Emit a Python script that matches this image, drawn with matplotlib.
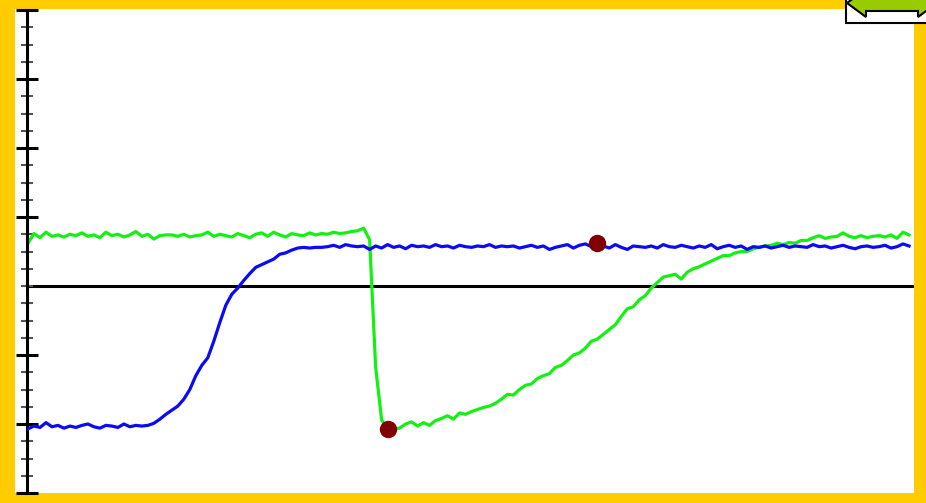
import numpy as np
import matplotlib
matplotlib.use("Agg")
import matplotlib.pyplot as plt
from matplotlib.patches import Rectangle, Polygon
from matplotlib.ticker import FixedLocator, MultipleLocator

# sampled every 0.06 s
dt = 0.06

green = [
    0.62, 0.76, 0.70, 0.78, 0.72, 0.74, 0.71, 0.75, 0.73, 0.77,
    0.72, 0.74, 0.70, 0.78, 0.73, 0.75, 0.71, 0.74, 0.79, 0.72,
    0.75, 0.68, 0.73, 0.74, 0.74, 0.72, 0.75, 0.71, 0.73, 0.74,
    0.78, 0.72, 0.75, 0.73, 0.71, 0.76, 0.73, 0.70, 0.75, 0.77,
    0.72, 0.78, 0.74, 0.71, 0.76, 0.74, 0.73, 0.77, 0.74, 0.76,
    0.75, 0.78, 0.76, 0.77, 0.79, 0.80, 0.84, 0.67, -1.17, -1.94,
    -2.07, -2.07, -2.06, -2.00, -1.97, -2.03, -1.98, -2.02, -1.95, -1.92,
    -1.88, -1.93, -1.84, -1.86, -1.82, -1.79, -1.76, -1.74, -1.70, -1.64,
    -1.57, -1.58, -1.50, -1.44, -1.42, -1.34, -1.30, -1.27, -1.18, -1.15,
    -1.08, -1.00, -0.97, -0.90, -0.80, -0.77, -0.70, -0.63, -0.56, -0.44,
    -0.33, -0.30, -0.20, -0.14, -0.03, 0.05, 0.13, 0.15, 0.17, 0.10,
    0.20, 0.25, 0.28, 0.32, 0.36, 0.40, 0.44, 0.44, 0.48, 0.50,
    0.50, 0.54, 0.56, 0.58, 0.59, 0.62, 0.60, 0.63, 0.62, 0.66,
    0.66, 0.70, 0.73, 0.69, 0.71, 0.72, 0.77, 0.72, 0.70, 0.73,
    0.70, 0.72, 0.73, 0.71, 0.74, 0.69, 0.78, 0.74,
]

blue = [
    -2.07, -2.03, -2.05, -1.98, -2.04, -2.02, -2.06, -2.03, -2.05, -2.02,
    -2.00, -2.04, -2.06, -2.02, -2.03, -2.05, -2.00, -2.04, -2.02, -2.03,
    -2.02, -1.99, -1.93, -1.86, -1.80, -1.74, -1.64, -1.50, -1.30, -1.15,
    -1.04, -0.80, -0.53, -0.28, -0.12, -0.03, 0.08, 0.18, 0.27, 0.31,
    0.35, 0.39, 0.46, 0.48, 0.52, 0.55, 0.56, 0.55, 0.56, 0.56,
    0.57, 0.59, 0.56, 0.60, 0.58, 0.57, 0.58, 0.53, 0.58, 0.55,
    0.60, 0.56, 0.58, 0.54, 0.59, 0.57, 0.58, 0.56, 0.60, 0.57,
    0.58, 0.55, 0.59, 0.57, 0.56, 0.58, 0.57, 0.60, 0.56, 0.58,
    0.57, 0.58, 0.55, 0.57, 0.59, 0.56, 0.58, 0.53, 0.56, 0.58,
    0.60, 0.55, 0.59, 0.61, 0.57, 0.62, 0.58, 0.55, 0.60, 0.56,
    0.53, 0.58, 0.57, 0.56, 0.58, 0.55, 0.60, 0.57, 0.56, 0.59,
    0.57, 0.55, 0.58, 0.56, 0.60, 0.54, 0.57, 0.59, 0.56, 0.58,
    0.53, 0.57, 0.56, 0.58, 0.55, 0.57, 0.59, 0.56, 0.58, 0.57,
    0.56, 0.60, 0.57, 0.58, 0.55, 0.57, 0.59, 0.56, 0.54, 0.57,
    0.58, 0.56, 0.57, 0.59, 0.55, 0.57, 0.61, 0.58,
]

# highlighted samples
green_mark = 60
blue_mark = 95

y_major = [-3, -2, -1, 1, 2, 3, 4]

W, H = 926, 503
fig = plt.figure(figsize=(W / 100, H / 100), dpi=100, facecolor="#FFCC00")

# white panel inside the yellow frame
fig.add_artist(Rectangle((15 / W, 10 / H), 899 / W, 484 / H, transform=fig.transFigure,
                         facecolor="white", edgecolor="none", zorder=-1))

ax = fig.add_axes([27 / W, 10 / H, 887 / W, 483 / H])
ax.set_facecolor("white")

t_green = np.arange(len(green)) * dt
t_blue = np.arange(len(blue)) * dt

ax.axhline(0, color="black", lw=2.2, zorder=1)
ax.plot(t_green, green, color="#14F014", lw=2.3, zorder=2)
ax.plot(t_blue, blue, color="#0A0AF5", lw=2.3, zorder=3)
ax.plot(t_green[green_mark], green[green_mark], "o", color="#800000", ms=11.5, zorder=4)
ax.plot(t_blue[blue_mark], blue[blue_mark], "o", color="#800000", ms=11.5, zorder=4)

ax.set_xlim(-0.01, 8.87)
ax.set_ylim(-3, 4)

for s in ["top", "right", "bottom"]:
    ax.spines[s].set_visible(False)
ax.spines["left"].set_linewidth(2.2)

ax.yaxis.set_major_locator(FixedLocator(y_major))
ax.yaxis.set_minor_locator(MultipleLocator(0.25))
ax.tick_params(axis="y", which="major", direction="inout", length=16, width=2.2,
               labelleft=False)
ax.tick_params(axis="y", which="minor", direction="inout", length=8, width=1.5,
               color="#555555")
ax.set_xticks([])

# zoom button in the top right corner
fig.add_artist(Rectangle((846 / W, (H - 23) / H), 90 / W, 30 / H, transform=fig.transFigure,
                         facecolor="white", edgecolor="black", lw=1.5, zorder=5))
arrow_px = [(847, 3), (866, 17), (866, 11), (918, 11), (918, 17), (937, 3),
            (918, -11), (918, -5), (866, -5), (866, -11)]
fig.add_artist(Polygon([(x / W, (H - y) / H) for x, y in arrow_px], closed=True,
                       transform=fig.transFigure, facecolor="#99CC00",
                       edgecolor="black", lw=1.5, zorder=6))

fig.savefig("out.png", dpi=100, facecolor=fig.get_facecolor())
